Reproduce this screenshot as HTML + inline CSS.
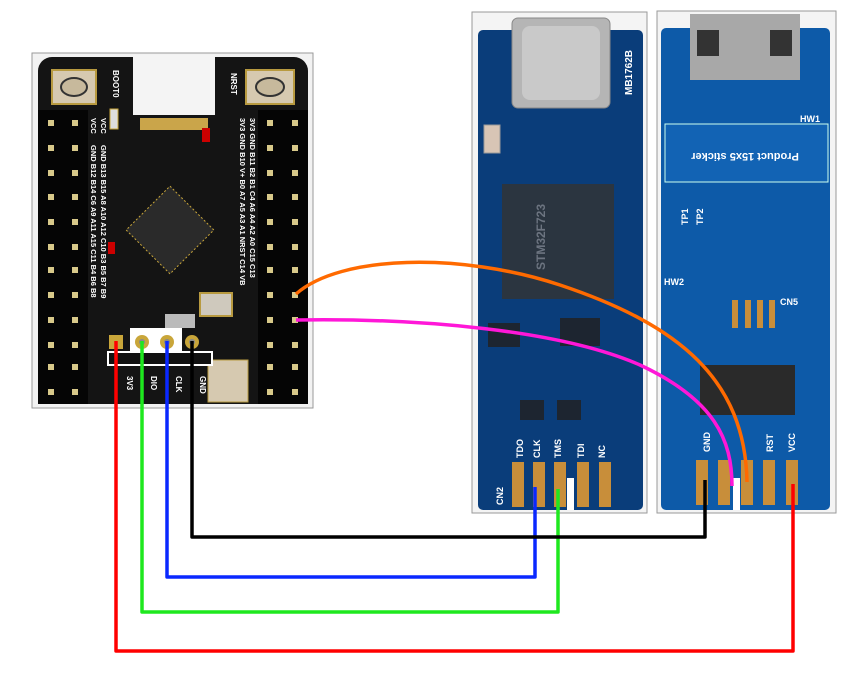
<!DOCTYPE html>
<html><head><meta charset="utf-8"><style>
html,body{margin:0;padding:0;background:#fff;width:866px;height:680px;overflow:hidden}
svg{display:block}
text{font-family:"Liberation Sans",sans-serif;font-weight:bold}
</style></head><body>
<svg width="866" height="680" viewBox="0 0 866 680" xmlns="http://www.w3.org/2000/svg">
<!-- LEFT BOARD -->
<rect x="32" y="53" width="281" height="355" fill="#f2f2f2" stroke="#999" stroke-width="1"/>
<rect x="38" y="57" width="270" height="347" rx="14" fill="#141414"/>
<rect x="38" y="110" width="50" height="294" fill="#050505"/>
<rect x="258" y="110" width="50" height="294" fill="#050505"/>
<g fill="#d8c98a">
<rect x="48" y="120" width="6" height="6"/><rect x="72" y="120" width="6" height="6"/><rect x="267" y="120" width="6" height="6"/><rect x="292" y="120" width="6" height="6"/>
<rect x="48" y="145" width="6" height="6"/><rect x="72" y="145" width="6" height="6"/><rect x="267" y="145" width="6" height="6"/><rect x="292" y="145" width="6" height="6"/>
<rect x="48" y="170" width="6" height="6"/><rect x="72" y="170" width="6" height="6"/><rect x="267" y="170" width="6" height="6"/><rect x="292" y="170" width="6" height="6"/>
<rect x="48" y="194" width="6" height="6"/><rect x="72" y="194" width="6" height="6"/><rect x="267" y="194" width="6" height="6"/><rect x="292" y="194" width="6" height="6"/>
<rect x="48" y="219" width="6" height="6"/><rect x="72" y="219" width="6" height="6"/><rect x="267" y="219" width="6" height="6"/><rect x="292" y="219" width="6" height="6"/>
<rect x="48" y="244" width="6" height="6"/><rect x="72" y="244" width="6" height="6"/><rect x="267" y="244" width="6" height="6"/><rect x="292" y="244" width="6" height="6"/>
<rect x="48" y="267" width="6" height="6"/><rect x="72" y="267" width="6" height="6"/><rect x="267" y="267" width="6" height="6"/><rect x="292" y="267" width="6" height="6"/>
<rect x="48" y="292" width="6" height="6"/><rect x="72" y="292" width="6" height="6"/><rect x="267" y="292" width="6" height="6"/><rect x="292" y="292" width="6" height="6"/>
<rect x="48" y="317" width="6" height="6"/><rect x="72" y="317" width="6" height="6"/><rect x="267" y="317" width="6" height="6"/><rect x="292" y="317" width="6" height="6"/>
<rect x="48" y="342" width="6" height="6"/><rect x="72" y="342" width="6" height="6"/><rect x="267" y="342" width="6" height="6"/><rect x="292" y="342" width="6" height="6"/>
<rect x="48" y="364" width="6" height="6"/><rect x="72" y="364" width="6" height="6"/><rect x="267" y="364" width="6" height="6"/><rect x="292" y="364" width="6" height="6"/>
<rect x="48" y="389" width="6" height="6"/><rect x="72" y="389" width="6" height="6"/><rect x="267" y="389" width="6" height="6"/><rect x="292" y="389" width="6" height="6"/>
</g>
<!-- buttons -->
<rect x="52" y="70" width="44" height="34" fill="#d6c9b0" stroke="#b89a40" stroke-width="2"/>
<ellipse cx="74" cy="87" rx="13" ry="9" fill="#c7b99c" stroke="#333" stroke-width="2"/>
<rect x="246" y="70" width="48" height="34" fill="#d6c9b0" stroke="#b89a40" stroke-width="2"/>
<ellipse cx="270" cy="87" rx="14" ry="9" fill="#c7b99c" stroke="#333" stroke-width="2"/>
<!-- usb c -->
<rect x="133" y="55" width="82" height="60" fill="#f4f4f4"/>
<rect x="140" y="118" width="68" height="12" fill="#caa54a"/>
<!-- chip -->
<rect x="139" y="199" width="62" height="62" fill="#2a2a2a" stroke="#c9a63a" stroke-width="1" stroke-dasharray="2 2" transform="rotate(45 170 230)"/>
<rect x="200" y="293" width="32" height="23" fill="#cfc9bd" stroke="#b89a40" stroke-width="2"/>
<rect x="165" y="314" width="30" height="14" fill="#bbb"/>
<rect x="202" y="128" width="8" height="14" fill="#c00"/>
<rect x="108" y="242" width="7" height="12" fill="#c00"/>
<rect x="110" y="109" width="8" height="20" fill="#ddd" stroke="#c9a63a"/>
<rect x="208" y="360" width="40" height="42" fill="#d6c9b0" stroke="#b89a40"/>
<!-- header -->
<rect x="130" y="328" width="52" height="25" fill="#fff"/>
<rect x="109" y="335" width="14" height="14" fill="#c9a63a"/>
<circle cx="142" cy="342" r="7" fill="#c9a63a"/><circle cx="142" cy="342" r="3" fill="#888"/>
<circle cx="167" cy="342" r="7" fill="#c9a63a"/><circle cx="167" cy="342" r="3" fill="#888"/>
<circle cx="192" cy="342" r="7" fill="#c9a63a"/><circle cx="192" cy="342" r="3" fill="#888"/>
<rect x="108" y="352" width="104" height="13" fill="#111" stroke="#fff" stroke-width="2"/>
<g fill="#fff" font-size="8">
<text transform="translate(127,376) rotate(90)">3V3</text>
<text transform="translate(151,376) rotate(90)">DIO</text>
<text transform="translate(176,376) rotate(90)">CLK</text>
<text transform="translate(200,376) rotate(90)">GND</text>
<text transform="translate(113,70) rotate(90)">BOOT0</text>
<text transform="translate(231,73) rotate(90)">NRST</text>
</g>
<g fill="#fff" font-size="7.5">
<text transform="translate(91,118) rotate(90)">VCC</text><text transform="translate(101,118) rotate(90)">VCC</text>
<text transform="translate(91,145) rotate(90)">GND B12 B14 C6 A9 A11 A15 C11 B4 B6 B8</text>
<text transform="translate(101,145) rotate(90)">GND B13 B15 A8 A10 A12 C10 B3 B5 B7 B9</text>
<text transform="translate(240,118) rotate(90)">3V3 GND B10 V+ B0 A7 A5 A3 A1 NRST C14 VB</text>
<text transform="translate(250,118) rotate(90)">3V3 GND B11 B2 B1 C4 A6 A4 A2 A0 C15 C13</text>
</g>

<!-- MIDDLE BOARD -->
<rect x="472" y="12" width="175" height="501" fill="#f4f4f4" stroke="#999"/>
<rect x="478" y="30" width="165" height="480" rx="5" fill="#0a3d7a"/>
<rect x="512" y="18" width="98" height="90" rx="6" fill="#b5b5b5" stroke="#888"/>
<rect x="522" y="26" width="78" height="74" rx="8" fill="#c9c9c9"/>
<rect x="484" y="125" width="16" height="28" fill="#d8c5b5" stroke="#999"/>
<rect x="502" y="184" width="112" height="115" fill="#2b3540"/>
<text fill="#6c7480" font-size="12" transform="translate(545,270) rotate(-90)">STM32F723</text>
<text fill="#fff" font-size="10" transform="translate(632,95) rotate(-90)">MB1762B</text>
<g fill="#1d2530"><rect x="488" y="323" width="32" height="24"/><rect x="560" y="318" width="40" height="28"/><rect x="520" y="400" width="24" height="20"/><rect x="557" y="400" width="24" height="20"/></g>
<g fill="#fff" font-size="9" font-weight="normal">
<text transform="translate(523,458) rotate(-90)">TDO</text>
<text transform="translate(540,458) rotate(-90)">CLK</text>
<text transform="translate(561,458) rotate(-90)">TMS</text>
<text transform="translate(584,458) rotate(-90)">TDI</text>
<text transform="translate(605,458) rotate(-90)">NC</text>
<text transform="translate(503,505) rotate(-90)">CN2</text>
</g>
<g fill="#c88e3a">
<rect x="512" y="462" width="12" height="45"/><rect x="533" y="462" width="12" height="45"/><rect x="554" y="462" width="12" height="45"/><rect x="577" y="462" width="12" height="45"/><rect x="599" y="462" width="12" height="45"/>
</g>
<rect x="567" y="478" width="7" height="32" fill="#fff"/>

<!-- RIGHT BOARD -->
<rect x="657" y="11" width="179" height="502" fill="#f4f4f4" stroke="#999"/>
<rect x="661" y="28" width="169" height="482" rx="5" fill="#0d5aa8"/>
<rect x="690" y="14" width="110" height="66" fill="#a8a8a8"/>
<rect x="697" y="30" width="22" height="26" fill="#333"/><rect x="770" y="30" width="22" height="26" fill="#333"/>
<rect x="665" y="124" width="163" height="58" fill="#1263b4" stroke="#cfe" stroke-width="1"/>
<text fill="#fff" font-size="11" font-weight="normal" transform="translate(745,153) rotate(180)" text-anchor="middle">Product 15x5 sticker</text>
<g fill="#fff" font-size="9" font-weight="normal">
<text transform="translate(688,225) rotate(-90)">TP1</text><text transform="translate(703,225) rotate(-90)">TP2</text>
<text x="664" y="285">HW2</text><text x="780" y="305">CN5</text><text x="800" y="122">HW1</text>
<text transform="translate(710,452) rotate(-90)">GND</text>
<text transform="translate(773,452) rotate(-90)">RST</text>
<text transform="translate(795,452) rotate(-90)">VCC</text>
</g>
<g fill="#c88e3a"><rect x="732" y="300" width="6" height="28"/><rect x="745" y="300" width="6" height="28"/><rect x="757" y="300" width="6" height="28"/><rect x="769" y="300" width="6" height="28"/></g>
<rect x="700" y="365" width="95" height="50" fill="#2a2a2a"/>
<g fill="#c88e3a">
<rect x="696" y="460" width="12" height="45"/><rect x="718" y="460" width="12" height="45"/><rect x="741" y="460" width="12" height="45"/><rect x="763" y="460" width="12" height="45"/><rect x="786" y="460" width="12" height="45"/>
</g>
<rect x="733" y="478" width="7" height="32" fill="#fff"/>

<!-- WIRES -->
<g fill="none" stroke-width="3.5" stroke-linejoin="round">
<polyline points="116,341 116,651 793,651 793,484" stroke="#f00"/>
<polyline points="142,341 142,612 558,612 558,489" stroke="#1ee81e"/>
<polyline points="167,341 167,577 535,577 535,487" stroke="#0a28ff"/>
<polyline points="192,341 192,537 705,537 705,480" stroke="#000"/>
<path d="M296,294 C340,255 460,252 560,285 C680,325 745,380 747,482" stroke="#ff6a00"/>
<path d="M296,320 C420,318 560,330 640,365 C715,400 732,440 732,486" stroke="#ff17d8"/>
</g>
</svg>
</body></html>
